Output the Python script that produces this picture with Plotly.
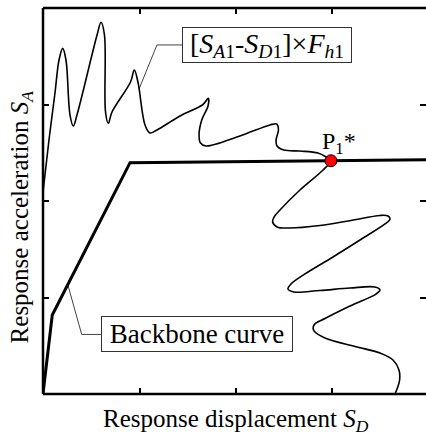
import plotly.graph_objects as go

# Wavy spectrum curve [S_A1-S_D1] x F_h1 (arbitrary units, axis 0..4)
wave_x = [0.000, 0.062, 0.124, 0.166, 0.204, 0.238, 0.280, 0.314, 0.352, 0.560,
          0.601, 0.637, 0.648, 0.677, 0.715, 0.907, 0.946, 0.984, 1.057, 1.109,
          1.181, 1.420, 1.658, 1.713, 1.710, 1.645, 1.617, 1.632, 1.689, 2.041,
          2.352, 2.422, 2.440, 2.415, 2.425, 2.497, 2.663, 2.850, 2.940, 2.984,
          2.902, 2.663, 2.456, 2.394, 2.380, 2.425, 2.560, 2.870, 3.181, 3.492,
          3.575, 3.596, 3.544, 3.285, 3.005, 2.715, 2.570, 2.539, 2.601, 2.870,
          3.181, 3.440, 3.492, 3.451, 3.181, 2.922, 2.808, 2.808, 2.922, 3.233,
          3.492, 3.627, 3.689, 3.694, 3.648]
wave_y = [2.093, 2.632, 3.119, 3.461, 3.582, 3.461, 2.891, 2.777, 2.891, 3.720,
          3.852, 3.720, 2.922, 2.805, 2.922, 3.233, 3.358, 3.233, 2.788, 2.705,
          2.736, 2.881, 3.000, 3.064, 2.984, 2.839, 2.684, 2.601, 2.570, 2.674,
          2.788, 2.798, 2.736, 2.632, 2.570, 2.528, 2.518, 2.497, 2.453, 2.418,
          2.321, 2.114, 1.907, 1.834, 1.782, 1.731, 1.720, 1.746, 1.796, 1.850,
          1.845, 1.813, 1.762, 1.596, 1.420, 1.244, 1.140, 1.088, 1.057, 1.073,
          1.098, 1.109, 1.078, 1.036, 0.912, 0.782, 0.715, 0.653, 0.580, 0.492,
          0.425, 0.352, 0.249, 0.135, 0.000]

# Backbone curve
bb_x = [0.0, 0.096, 0.902, 4.0]
bb_y = [0.0, 0.819, 2.397, 2.428]

# Performance point P1*
p_x = [2.984]
p_y = [2.417]

# Leader lines for the labels
lead1_x = [1.451, 1.181, 0.995]
lead1_y = [3.617, 3.617, 3.160]
lead2_x = [0.608, 0.401, 0.258]
lead2_y = [0.617, 0.617, 1.130]

tick_vals = [1, 2, 3]
x_title = "Response displacement <i>S</i><sub><i>D</i></sub>"
y_title = "Response acceleration <i>S</i><sub><i>A</i></sub>"
label_wave = "[<i>S</i><sub><i>A</i>1</sub>-<i>S</i><sub><i>D</i>1</sub>]×<i>F</i><sub><i>h</i>1</sub>"
label_bb = "Backbone curve"
label_p = "P<sub>1</sub>*"

FONT = "Liberation Serif"

fig = go.Figure()
fig.add_trace(go.Scatter(x=lead1_x, y=lead1_y, mode="lines",
                         line=dict(color="#444", width=1), hoverinfo="skip"))
fig.add_trace(go.Scatter(x=lead2_x, y=lead2_y, mode="lines",
                         line=dict(color="#444", width=1), hoverinfo="skip"))
fig.add_trace(go.Scatter(x=wave_x, y=wave_y, mode="lines",
                         line=dict(color="black", width=1.6, shape="spline", smoothing=1.0)))
fig.add_trace(go.Scatter(x=bb_x, y=bb_y, mode="lines",
                         line=dict(color="black", width=3)))
fig.add_trace(go.Scatter(x=p_x, y=p_y, mode="markers",
                         marker=dict(color="red", size=12, line=dict(color="black", width=1)),
                         cliponaxis=False))

fig.add_annotation(x=2.321, y=3.617, text=label_wave, showarrow=False,
                   font=dict(family=FONT, size=28, color="black"),
                   bordercolor="#333", borderwidth=1, width=166, height=32,
                   bgcolor="white")
fig.add_annotation(x=1.591, y=0.617, text=label_bb, showarrow=False,
                   font=dict(family=FONT, size=27, color="black"),
                   bordercolor="#333", borderwidth=1, width=188, height=32,
                   bgcolor="white")
fig.add_annotation(x=3.07, y=2.60, text=label_p, showarrow=False,
                   font=dict(family=FONT, size=24, color="black"))

fig.add_annotation(xref="paper", yref="paper", x=0.505, y=-0.068, text=x_title,
                   showarrow=False, xanchor="center", yanchor="middle",
                   font=dict(family=FONT, size=25, color="black"))
fig.add_annotation(xref="paper", yref="paper", x=-0.057, y=0.458, text=y_title,
                   showarrow=False, xanchor="center", yanchor="middle", textangle=-90,
                   font=dict(family=FONT, size=25, color="black"))

# frame: left, bottom, top
for x0, y0, x1, y1 in [(0, 0, 0, 1), (0, 0, 1, 0), (0, 1, 1, 1)]:
    fig.add_shape(type="line", xref="paper", yref="paper", x0=x0, y0=y0, x1=x1, y1=y1,
                  line=dict(color="black", width=2.5))

axis_common = dict(showgrid=False, zeroline=False, showline=False, mirror="ticks",
                   ticks="inside", ticklen=6, tickwidth=1.5, tickcolor="black",
                   tickvals=tick_vals, showticklabels=False, fixedrange=True)
fig.update_xaxes(range=[0, 3.969], **axis_common)
fig.update_yaxes(range=[0, 4], **axis_common)

fig.update_layout(width=426, height=447, showlegend=False,
                  font=dict(family=FONT, color="black"),
                  margin=dict(l=43, r=0, t=8, b=53),
                  plot_bgcolor="white", paper_bgcolor="white")

fig.write_html("out.html")
